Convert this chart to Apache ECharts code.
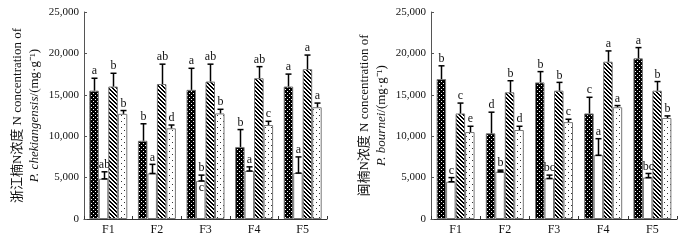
<!DOCTYPE html>
<html>
<head>
<meta charset="utf-8">
<script src="https://cdn.jsdelivr.net/npm/echarts@6/dist/echarts.min.js"></script>
<style>
html, body { margin: 0; padding: 0; background: #fff; }
#main { width: 685px; height: 241px; }
</style>
</head>
<body>
<div id="main"></div>
<script>
// ---------- 数据 ----------
var categories = ['F1', 'F2', 'F3', 'F4', 'F5'];
var yTicks = [0, 5000, 10000, 15000, 20000, 25000];

// 浙江楠 (左图): 四个处理, 每个处理 5 个值
var leftMeans = [
    [15500, 9450, 15600, 8700, 16000],
    [4850, 5500, 4600, 5800, 5550],
    [16000, 16300, 16600, 17000, 18100],
    [12700, 10950, 12750, 11350, 13500]
];
var leftErrTop = [
    [17000, 11500, 18200, 10800, 17500],
    [5700, 6600, 5300, 6300, 7500],
    [17600, 18700, 18700, 18400, 19800],
    [13100, 11350, 13250, 11800, 14000]
];
var leftLetters = [
    ['a', 'b', 'a', 'b', 'a'],
    ['ab', 'a', 'b', 'a', 'a'],
    ['b', 'ab', 'ab', 'ab', 'a'],
    ['b', 'd', 'b', 'c', 'a']
];
var leftExtra = [[1, 2, 'c']]; // [series, category, letter] 画在误差线下方

// 闽楠 (右图)
var rightMeans = [
    [16900, 10350, 16500, 12750, 19400],
    [4500, 5700, 4900, 7700, 5000],
    [12750, 15300, 15500, 19000, 15500],
    [10500, 10750, 11700, 13500, 12200]
];
var rightErrTop = [
    [18500, 12900, 17800, 14700, 20700],
    [5000, 5900, 5300, 9700, 5500],
    [14000, 16700, 16500, 20300, 16600],
    [11200, 11200, 12050, 13700, 12450]
];
var rightLetters = [
    ['b', 'd', 'b', 'c', 'a'],
    ['c', 'b', 'bc', 'a', 'bc'],
    ['c', 'b', 'b', 'a', 'b'],
    ['e', 'd', 'c', 'a', 'b']
];

// ---------- 填充图案 ----------
function makePattern(kind) {
    var c = document.createElement('canvas');
    var ctx = c.getContext('2d');
    if (kind === 'dark') {
        c.width = 4; c.height = 4;
        ctx.fillStyle = '#000';
        ctx.fillRect(0, 0, 4, 4);
        ctx.fillStyle = '#fff';
        ctx.fillRect(1, 1, 1, 1);
        ctx.fillRect(3, 3, 1, 1);
    } else if (kind === 'hatch') {
        c.width = 4; c.height = 4;
        ctx.fillStyle = '#fff';
        ctx.fillRect(0, 0, 4, 4);
        ctx.fillStyle = '#000';
        for (var i = 0; i < 4; i++) {
            ctx.fillRect(i, i, 1, 1);
            ctx.fillRect((i + 1) % 4, i, 1, 1);
        }
    } else if (kind === 'light') {
        c.width = 6; c.height = 6;
        ctx.fillStyle = '#fff';
        ctx.fillRect(0, 0, 6, 6);
        ctx.fillStyle = '#333';
        ctx.fillRect(1, 1, 1, 1);
        ctx.fillRect(4, 4, 1, 1);
    } else {
        c.width = 2; c.height = 2;
        ctx.fillStyle = '#fff';
        ctx.fillRect(0, 0, 2, 2);
    }
    return { image: c, repeat: 'repeat' };
}

var fills = [makePattern('dark'), makePattern('white'), makePattern('hatch'), makePattern('light')];
var barW = 9.5;
var serif = '"Liberation Serif", "Times New Roman", serif';
var nameFont = '"Liberation Serif", "Noto Sans CJK SC", serif';
var textColor = '#111';

function fmtTick(v) {
    return v === 0 ? '0' : String(v).replace(/\B(?=(\d{3})+(?!\d))/g, ',');
}

function makeAxes(idx) {
    return {
        x: {
            type: 'category',
            gridIndex: idx,
            data: categories,
            axisLine: { lineStyle: { color: '#333', width: 1 } },
            axisTick: { show: true, inside: true, length: 3, lineStyle: { color: '#333' } },
            axisLabel: { color: textColor, fontFamily: serif, fontSize: 12, margin: 5 },
            splitLine: { show: false }
        },
        y: {
            type: 'value',
            gridIndex: idx,
            min: yTicks[0],
            max: yTicks[yTicks.length - 1],
            interval: 5000,
            axisLine: { show: true, lineStyle: { color: '#555', width: 1 } },
            axisTick: { show: true, inside: true, length: 3, lineStyle: { color: '#555' } },
            axisLabel: { color: textColor, fontFamily: serif, fontSize: 11, margin: 5, formatter: fmtTick },
            splitLine: { show: false },
            nameLocation: 'middle',
            nameRotate: 90,
            nameGap: 41,
            nameTextStyle: {
                fontFamily: nameFont,
                fontSize: 13,
                color: textColor,
                lineHeight: 17,
                rich: {
                    a: { fontFamily: nameFont, fontSize: 13, color: textColor, lineHeight: 17 },
                    i: { fontFamily: serif, fontStyle: 'italic', fontSize: 13, color: textColor, lineHeight: 17 }
                }
            }
        }
    };
}

// 误差线 + 字母标注 (custom series)
function errorSeries(idx, means, tops, letters, extra) {
    var data = [];
    for (var s = 0; s < means.length; s++) {
        for (var k = 0; k < categories.length; k++) {
            var ex = '';
            (extra || []).forEach(function (e) {
                if (e[0] === s && e[1] === k) ex = e[2];
            });
            data.push([k, means[s][k], tops[s][k], s, letters[s][k], ex]);
        }
    }
    return {
        type: 'custom',
        xAxisIndex: idx,
        yAxisIndex: idx,
        z: 5,
        silent: true,
        data: data,
        renderItem: function (params, api) {
            var k = api.value(0);
            var s = api.value(3);
            var base = api.coord([k, api.value(1)]);
            var top = api.coord([k, api.value(2)]);
            var x = Math.round(base[0] + (s - 1.5) * barW) + 0.5;
            var cap = 3;
            var children = [
                { type: 'line', shape: { x1: x, y1: base[1], x2: x, y2: top[1] }, style: { stroke: '#000', lineWidth: 1.5 } },
                { type: 'line', shape: { x1: x - cap, y1: top[1], x2: x + cap, y2: top[1] }, style: { stroke: '#000', lineWidth: 1.5 } },
                {
                    type: 'text',
                    style: {
                        x: x, y: top[1] - 1, text: api.value(4),
                        align: 'center', verticalAlign: 'bottom',
                        fontFamily: serif, fontSize: 12, fill: textColor
                    }
                }
            ];
            if (s === 1) {
                children.push({ type: 'line', shape: { x1: x - cap, y1: base[1], x2: x + cap, y2: base[1] }, style: { stroke: '#000', lineWidth: 1.5 } });
            }
            var ex = api.value(5);
            if (ex) {
                children.push({
                    type: 'text',
                    style: {
                        x: x, y: base[1] + 1, text: ex,
                        align: 'center', verticalAlign: 'top',
                        fontFamily: serif, fontSize: 12, fill: textColor
                    }
                });
            }
            return { type: 'group', children: children };
        }
    };
}

function barSeries(idx, means) {
    return means.map(function (vals, s) {
        return {
            type: 'bar',
            xAxisIndex: idx,
            yAxisIndex: idx,
            data: vals,
            barWidth: barW,
            barGap: '0%',
            silent: true,
            itemStyle: {
                color: fills[s],
                borderColor: '#777',
                borderWidth: 1
            }
        };
    });
}

var chart = echarts.init(document.getElementById('main'), null, { renderer: 'canvas' });

var leftAxes = makeAxes(0);
var rightAxes = makeAxes(1);
leftAxes.y.name = '{a|浙江楠N浓度 N concentration of}\n{i|P. chekiangensis}{a|/(mg·g⁻¹)}';
rightAxes.y.name = '{a|闽楠N浓度 N concentration of}\n{i|P. bournei}{a|/(mg·g⁻¹)}';

var option = {
    backgroundColor: '#fff',
    animation: false,
    grid: [
        { left: 84, top: 12, width: 243, height: 207, containLabel: false },
        { left: 431, top: 12, width: 246, height: 207, containLabel: false }
    ],
    xAxis: [leftAxes.x, rightAxes.x],
    yAxis: [leftAxes.y, rightAxes.y],
    series: [].concat(
        barSeries(0, leftMeans),
        barSeries(1, rightMeans),
        [errorSeries(0, leftMeans, leftErrTop, leftLetters, leftExtra),
         errorSeries(1, rightMeans, rightErrTop, rightLetters, [])]
    )
};

chart.setOption(option);
</script>
</body>
</html>
